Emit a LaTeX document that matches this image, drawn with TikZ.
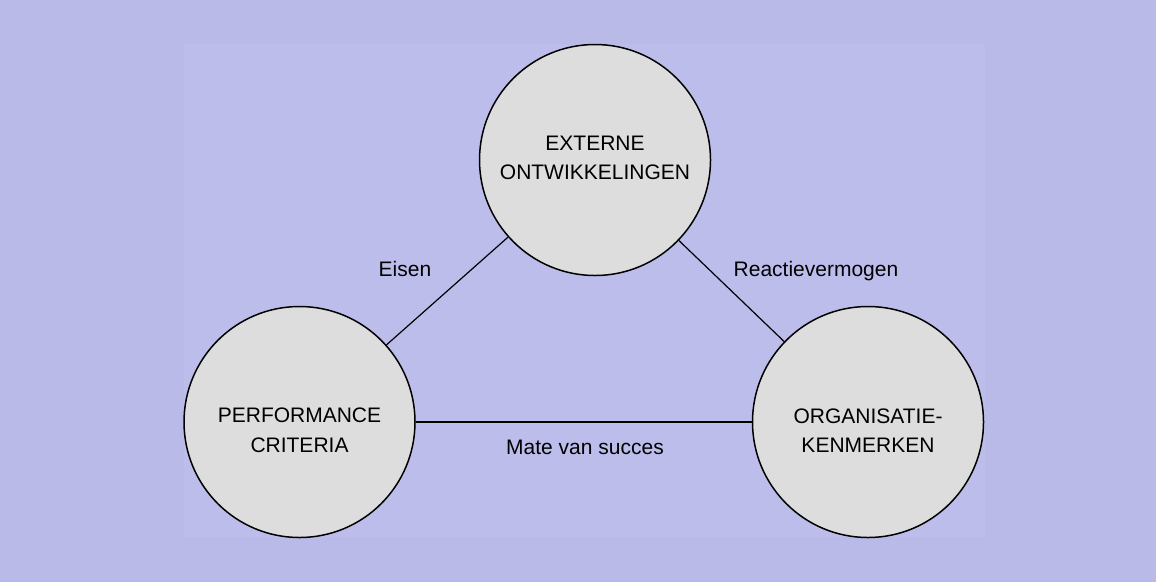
\documentclass[tikz,border=0pt]{standalone}
\usepackage{fontspec}
\setmainfont{Liberation Sans}
\definecolor{outerbg}{RGB}{186,186,232}
\definecolor{innerbg}{RGB}{189,189,235}
\definecolor{circfill}{RGB}{221,221,221}
\tikzset{
  circ/.style={circle,draw=black,line width=1.5pt,fill=circfill,minimum size=231pt,inner sep=0pt},
  txt/.style={font=\fontsize{21}{29.5}\selectfont,align=center,text=black},
  lbl/.style={font=\fontsize{21}{25}\selectfont,text=black,anchor=base,inner sep=0pt},
  conn/.style={draw=black,line width=1.2pt}
}
\begin{document}
\begin{tikzpicture}[x=1pt,y=-1pt]
\fill[outerbg] (0,0) rectangle (1156,582);
\fill[innerbg] (184,44) rectangle (985,537);
\useasboundingbox (0,0) rectangle (1156,582);
\node[circ,label={[txt,yshift=2pt]center:EXTERNE\\ONTWIKKELINGEN}] (ext) at (595,160) {};
\node[circ,label={[txt,yshift=-8.5pt]center:PERFORMANCE\\CRITERIA}] (perf) at (299.5,422) {};
\node[circ,label={[txt,yshift=-8.5pt]center:ORGANISATIE-\\KENMERKEN}] (org) at (868,422) {};
\draw[conn] (perf) -- (ext);
\draw[conn] (ext) -- (org);
\draw[conn] (perf) -- (org);
\node[lbl] (eisen) at (405,276) {Eisen};
\node[lbl] (react) at (816,276) {Reactievermogen};
\node[lbl] (mate) at (585,454) {Mate van succes};
\end{tikzpicture}
\end{document}
